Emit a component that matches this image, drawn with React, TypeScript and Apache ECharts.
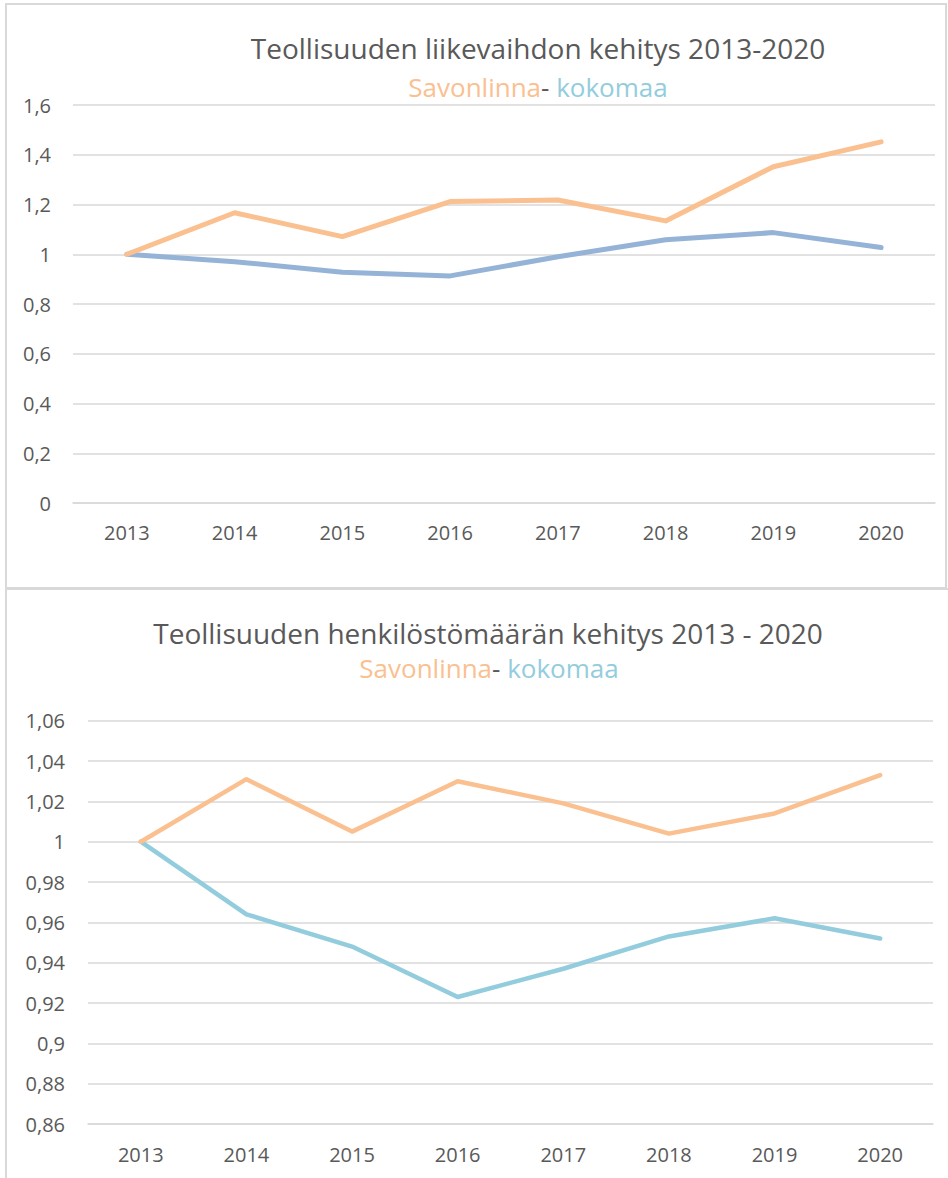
import React, { useEffect, useRef } from "react";
import * as echarts from "echarts";

const years = ["2013", "2014", "2015", "2016", "2017", "2018", "2019", "2020"];

// Top chart: turnover index
const turnoverSavonlinna = [1.0, 1.167, 1.071, 1.212, 1.218, 1.134, 1.352, 1.452];
const turnoverKokomaa = [1.0, 0.97, 0.928, 0.913, 0.99, 1.058, 1.087, 1.027];

// Bottom chart: personnel index
const staffSavonlinna = [1.0, 1.031, 1.005, 1.03, 1.019, 1.004, 1.014, 1.033];
const staffKokomaa = [1.0, 0.964, 0.948, 0.923, 0.937, 0.953, 0.962, 0.952];

const title1 = "Teollisuuden liikevaihdon kehitys 2013-2020";
const title2 = "Teollisuuden henkilöstömäärän kehitys 2013 - 2020";

const ORANGE = "#FAC090";
const BLUE1 = "#95B3D7";
const BLUE2 = "#93CDDD";
const TEXT = "#595959";
const GRID = "#D9D9D9";
const FONT = "'Open Sans', 'Noto Sans', sans-serif";

const fmt = (v: number) => String(Number(v.toFixed(2))).replace(".", ",");

export default function App() {
  const ref = useRef<HTMLDivElement>(null);
  useEffect(() => {
    if (!ref.current) return;
    const chart = echarts.init(ref.current, null, { renderer: "svg" });
    const subtitleRich = {
      s: { fontSize: 26, color: ORANGE, fontFamily: FONT },
      d: { fontSize: 26, color: TEXT, fontFamily: FONT },
      k: { fontSize: 26, color: BLUE2, fontFamily: FONT },
    };
    const yAxisCommon = {
      type: "value" as const,
      axisLine: { show: false },
      axisTick: { show: false },
      splitLine: { lineStyle: { color: GRID, width: 1.5 } },
      axisLabel: { color: TEXT, fontSize: 20, fontFamily: FONT, margin: 22, formatter: fmt },
    };
    const xAxisCommon = {
      type: "category" as const,
      data: years,
      boundaryGap: true,
      axisLine: { show: true, lineStyle: { color: GRID, width: 1.5 } },
      axisTick: { show: false },
      axisLabel: { color: TEXT, fontSize: 20, fontFamily: FONT, margin: 19 },
    };
    chart.setOption({
      animation: false,
      backgroundColor: "#ffffff",
      graphic: [
        {
          type: "rect",
          shape: { x: 6, y: 4, width: 940, height: 584 },
          style: { fill: "none", stroke: GRID, lineWidth: 2 },
          silent: true,
        },
        {
          type: "rect",
          shape: { x: 6, y: 589, width: 1000, height: 700 },
          style: { fill: "none", stroke: GRID, lineWidth: 2 },
          silent: true,
        },
      ],
      title: [
        {
          text: title1,
          left: 533,
          top: 29,
          textAlign: "center",
          textStyle: { color: TEXT, fontSize: 28, fontWeight: "normal", fontFamily: FONT },
        },
        {
          text: "{s|Savonlinna}{d|-}{k| kokomaa}",
          left: 533,
          top: 69,
          textAlign: "center",
          textStyle: { rich: subtitleRich, fontWeight: "normal" },
        },
        {
          text: title2,
          left: 483,
          top: 614,
          textAlign: "center",
          textStyle: { color: TEXT, fontSize: 28, fontWeight: "normal", fontFamily: FONT },
        },
        {
          text: "{s|Savonlinna}{d|-}{k| kokomaa}",
          left: 484,
          top: 650,
          textAlign: "center",
          textStyle: { rich: subtitleRich, fontWeight: "normal" },
        },
      ],
      grid: [
        { left: 73, right: 13, top: 105, height: 398, containLabel: false },
        { left: 88, right: 15, top: 720.7, height: 403.3, containLabel: false },
      ],
      xAxis: [
        { ...xAxisCommon, gridIndex: 0 },
        { ...xAxisCommon, gridIndex: 1, axisLabel: { ...xAxisCommon.axisLabel, margin: 20 } },
      ],
      yAxis: [
        { ...yAxisCommon, gridIndex: 0, min: 0, max: 1.6, interval: 0.2 },
        { ...yAxisCommon, gridIndex: 1, min: 0.86, max: 1.06, interval: 0.02, axisLabel: { ...yAxisCommon.axisLabel, margin: 23 } },
      ],
      series: [
        {
          name: "Savonlinna",
          type: "line",
          xAxisIndex: 0,
          yAxisIndex: 0,
          data: turnoverSavonlinna,
          symbol: "none",
          lineStyle: { color: ORANGE, width: 5, cap: "round", join: "round" },
          z: 3,
        },
        {
          name: "kokomaa",
          type: "line",
          xAxisIndex: 0,
          yAxisIndex: 0,
          data: turnoverKokomaa,
          symbol: "none",
          lineStyle: { color: BLUE1, width: 5, cap: "round", join: "round" },
          z: 2,
        },
        {
          name: "Savonlinna",
          type: "line",
          xAxisIndex: 1,
          yAxisIndex: 1,
          data: staffSavonlinna,
          symbol: "none",
          lineStyle: { color: ORANGE, width: 4.5, cap: "round", join: "round" },
          z: 3,
        },
        {
          name: "kokomaa",
          type: "line",
          xAxisIndex: 1,
          yAxisIndex: 1,
          data: staffKokomaa,
          symbol: "none",
          lineStyle: { color: BLUE2, width: 4.5, cap: "round", join: "round" },
          z: 2,
        },
      ],
    });
    return () => chart.dispose();
  }, []);
  return (
    <div
      ref={ref}
      style={{ position: "absolute", left: 0, top: 0, width: 948, height: 1178, background: "#fff" }}
    />
  );
}
